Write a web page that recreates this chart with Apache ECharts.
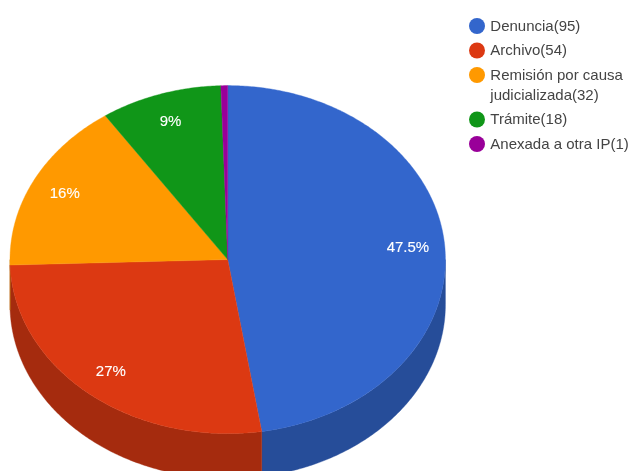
<!DOCTYPE html>
<html>
<head>
<meta charset="utf-8">
<style>html,body{margin:0;padding:0;background:#fff}#c{width:630px;height:471px}</style>
<script src="https://cdn.jsdelivr.net/npm/echarts@6/dist/echarts.min.js"></script>
</head>
<body>
<div id="c"></div>
<script>
const categories = ['Denuncia', 'Archivo', 'Remisión por causa\njudicializada', 'Trámite', 'Anexada a otra IP'];
const values = [95, 54, 32, 18, 1];
const topColors = ['#3366CC', '#DC3912', '#FF9900', '#109618', '#990099'];
const sideColors = ['#264D99', '#A52B0E', '#BF7300', '#0C7112', '#730073'];

const cx = 227.7, cy = 259.6, rx = 217.7, ry = 174, depth = 45, labelRadius = 0.835;
const total = values.reduce((a, b) => a + b, 0);
const fracBefore = i => values.slice(0, i).reduce((a, b) => a + b, 0) / total;
const ang = f => f * 2 * Math.PI;
const px = a => cx + rx * Math.sin(a);
const py = a => cy - ry * Math.cos(a);
const fmtPct = v => (Math.round(v / total * 1000) / 10) + '%';

function arcPoints(a0, a1, dy) {
  const n = Math.max(2, Math.ceil((a1 - a0) / 0.01));
  const pts = [];
  for (let k = 0; k <= n; k++) {
    const a = a0 + (a1 - a0) * k / n;
    pts.push([px(a), py(a) + (dy || 0)]);
  }
  return pts;
}

function renderSide(params, api) {
  const i = params.dataIndex;
  const a0 = Math.max(ang(fracBefore(i)), Math.PI / 2);
  const a1 = Math.min(ang(fracBefore(i + 1)), 3 * Math.PI / 2);
  if (a1 <= a0) return { type: 'group', children: [] };
  const pts = arcPoints(a0, a1, 0).concat(arcPoints(a0, a1, depth).reverse());
  return { type: 'polygon', shape: { points: pts }, style: { fill: sideColors[i], stroke: sideColors[i], lineWidth: 0.4 } };
}

function renderTop(params, api) {
  const i = params.dataIndex;
  const a0 = ang(fracBefore(i)), a1 = ang(fracBefore(i + 1));
  const pts = [[cx, cy]].concat(arcPoints(a0, a1, 0));
  const children = [{ type: 'polygon', shape: { points: pts }, style: { fill: topColors[i], stroke: topColors[i], lineWidth: 0.4 } }];
  if (api.value(0) / total >= 0.05) {
    const m = (a0 + a1) / 2;
    children.push({
      type: 'text', z2: 10,
      style: {
        x: cx + labelRadius * rx * Math.sin(m) - 1,
        y: cy - labelRadius * ry * Math.cos(m),
        text: fmtPct(api.value(0)), fill: '#fff', stroke: '#fff', lineWidth: 0.12,
        font: '15px "Liberation Sans", Arial, sans-serif',
        align: 'center', verticalAlign: 'middle'
      }
    });
  }
  return { type: 'group', children };
}

const seriesData = values.map((v, i) => ({ name: categories[i], value: [v] }));
const legendX = 477, textX = 490.3, lineH = 20, itemGap = 24.5;
let legendY = 26;
const legendEls = [];
categories.forEach((c, i) => {
  const label = c + '(' + values[i] + ')';
  legendEls.push({ type: 'circle', left: legendX - 8, top: legendY - 8, shape: { r: 8 }, style: { fill: topColors[i] } });
  legendEls.push({ type: 'text', x: textX, y: legendY - lineH / 2 + 0.5, style: { text: label, fill: '#444', font: '15px "Liberation Sans", Arial, sans-serif', lineHeight: lineH, verticalAlign: 'top' } });
  legendY += itemGap + (label.split('\n').length - 1) * lineH;
});

const chart = echarts.init(document.getElementById('c'), null, { renderer: 'canvas' });
chart.setOption({
  animation: false,
  backgroundColor: '#fff',
  tooltip: { show: false },
  series: [
    { type: 'custom', name: 'side', coordinateSystem: 'none', silent: true, z: 1, data: seriesData, renderItem: renderSide },
    { type: 'custom', name: 'top', coordinateSystem: 'none', silent: true, z: 2, data: seriesData, renderItem: renderTop }
  ],
  graphic: { elements: legendEls }
});
</script>
</body>
</html>
